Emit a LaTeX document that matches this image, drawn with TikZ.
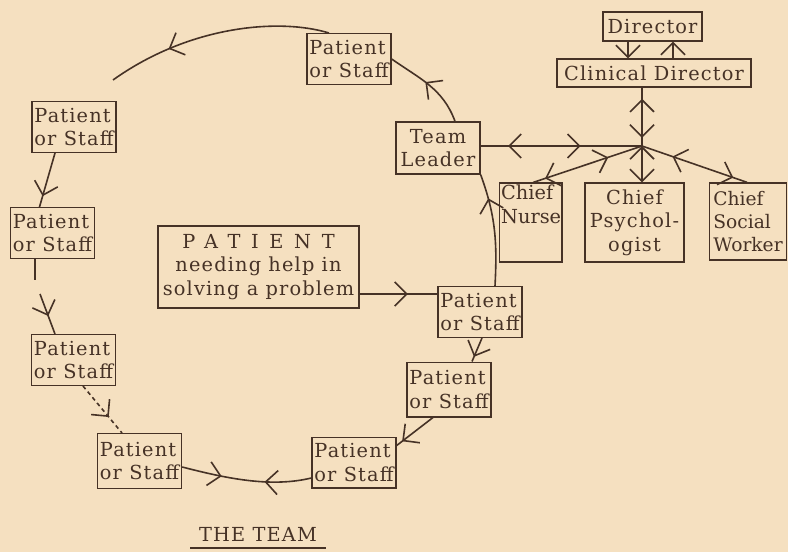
\documentclass[tikz,border=0pt]{standalone}
\usepackage{fontspec}
\usetikzlibrary{arrows.meta,decorations.markings,calc}
\newfontfamily\boxfont{DejaVu Serif}[LetterSpace=6]
\newfontfamily\tightfont{DejaVu Serif}[LetterSpace=0]
\newfontfamily\spacedfont{DejaVu Serif}[LetterSpace=55]
\definecolor{paper}{RGB}{245,224,192}
\definecolor{ink}{RGB}{70,50,38}
\tikzset{every picture/.style={line width=0.75pt}}
\tikzset{barb/.tip={Straight Barb[length=9pt,width=18pt]}}

\begin{document}
\begin{tikzpicture}[x=0.75pt,y=0.75pt,yscale=-1,xscale=1,
  box/.style={draw=ink, line width=1pt, text=ink, inner sep=1.5pt, font=\boxfont\fontsize{14.5}{17.5}\selectfont},
  ps/.style={box, align=left, minimum width=63pt, minimum height=38pt},
  link/.style={draw=ink, line width=1.2pt},
  midtip/.style={postaction={decorate,decoration={markings,mark=at position #1 with {\arrow{barb}}}}},
  backtip/.style={postaction={decorate,decoration={markings,mark=at position #1 with {\arrowreversed{barb}}}}}]
	%Shape: Paper
	\fill[paper] (0,0) rectangle (788,552);
	\useasboundingbox (0,0) rectangle (788,552);

	% Text Node
	\node[ps] (p1) at (349,59) {Patient\\or Staff};
	\node[ps] (p2) at (74,127) {Patient\\or Staff};
	\node[ps] (p3) at (52.5,233) {Patient\\or Staff};
	\node[ps] (p4) at (73.5,360) {Patient\\or Staff};
	\node[ps, minimum height=41pt] (p5) at (139.5,461) {Patient\\or Staff};
	\node[ps] (p6) at (354,462.5) {Patient\\or Staff};
	\node[ps, minimum height=41pt] (p7) at (449,389.5) {Patient\\or Staff};
	\node[ps] (p8) at (480,312) {Patient\\or Staff};
	% Text Node
	\node[box, align=center, minimum width=150.75pt, minimum height=61.5pt] (pat) at (258.5,267)
	  {{\spacedfont PATIENT}\\needing help in\\solving a problem};
	% Text Node
	\node[box, align=center, minimum width=63pt, minimum height=39pt] (tl) at (438,148) {Team\\Leader};
	\node[box, inner sep=1.5pt] (nur) at (530.5,222.5) {\parbox[t][56pt][t]{44pt}{\tightfont Chief\\Nurse}};
	\node[box, align=center, minimum width=74.25pt, minimum height=59.25pt] (psy) at (634.5,222.5) {Chief\\Psychol-\\ogist};
	\node[box, align=left, inner sep=0.8pt, minimum width=57.75pt, minimum height=57.75pt,
	  font=\tightfont\fontsize{14}{17.5}\selectfont] (sw) at (748,221.5) {Chief\\Social\\Worker};
	\node[box, minimum width=74.25pt, minimum height=21.75pt] (dir) at (652.5,26.5) {Director};
	\node[box, minimum width=145.5pt, minimum height=21pt] (cdir) at (654,73) {Clinical Director};
	% Text Node
	\node[text=ink, font=\boxfont\fontsize{14.5}{17.5}\selectfont] (title) at (258,534) {THE TEAM};
	\draw[ink, line width=1pt] ($(title.south west)+(-4,2)$) -- ($(title.south east)+(4,2)$);

	\coordinate (hub) at (642,146);
	\coordinate (arcend) at (113,80);

	%Straight Lines
	\draw[link,-{barb}] ($(dir.south)+(-24.5,0)$) -- ($(cdir.north)+(-26,0)$);
	\draw[link,-{barb}] ($(cdir.north)+(19,0)$) -- ($(dir.south)+(20.5,0)$);
	\draw[link,midtip=0.81,backtip=0.14] (hub) -- (cdir.south -| hub);
	\draw[link,{barb}-{barb}] (hub) -- (psy.north -| hub);
	\draw[link,midtip=0.62,backtip=0.17] (tl.east |- hub) -- (hub);
	\draw[link,midtip=0.89,backtip=0.31] (hub) -- ($(nur.north)+(2.5,0)$);
	\draw[link,midtip=0.87,backtip=0.29] (hub) -- ($(sw.north)+(-1,0)$);

	%Curve Lines
	\draw[link,midtip=0.62] ($(pat.east)+(0,27)$) -- ($(p8.west)+(0,-18)$);
	\draw[link,midtip=0.78] ($(p8.north)+(15,0)$) to[out=-87,in=70] (tl.south east);
	\draw[link,midtip=0.55] ($(tl.north)+(17,0)$) to[out=-110,in=35] (p1.east);
	\draw[link,midtip=0.72] ($(p1.north)+(-20,0)$) .. controls (280,18) and (190,25) .. (arcend);
	\draw[link,midtip=0.8] ($(p2.south)+(-19,0)$) -- ($(p3.north)+(-13,0)$);
	\draw[link] ($(p3.south)+(-17.5,0)$) -- ++(0,21);
	\draw[link,midtip=0.55] ($(p4.north)+(-33.5,-40)$) -- ($(p4.north)+(-18.5,0)$);
	\draw[link,dash pattern=on 3pt off 2.5pt,midtip=0.66] ($(p4.south)+(9.5,0)$) -- ($(p5.north)+(-17.5,0)$);
	\draw[link,midtip=0.31,backtip=0.64] ($(p5.east)+(0,6)$) .. controls (225,478) and (270,488) .. ($(p6.west)+(0,15.5)$);
	\draw[link,midtip=0.85] ($(p7.south)+(-16,0)$) -- ($(p6.north east)+(0,9)$);
	\draw[link,midtip=0.8] ($(p8.south)+(2,0)$) -- ($(p7.north)+(23,0)$);

\end{tikzpicture}
\end{document}
